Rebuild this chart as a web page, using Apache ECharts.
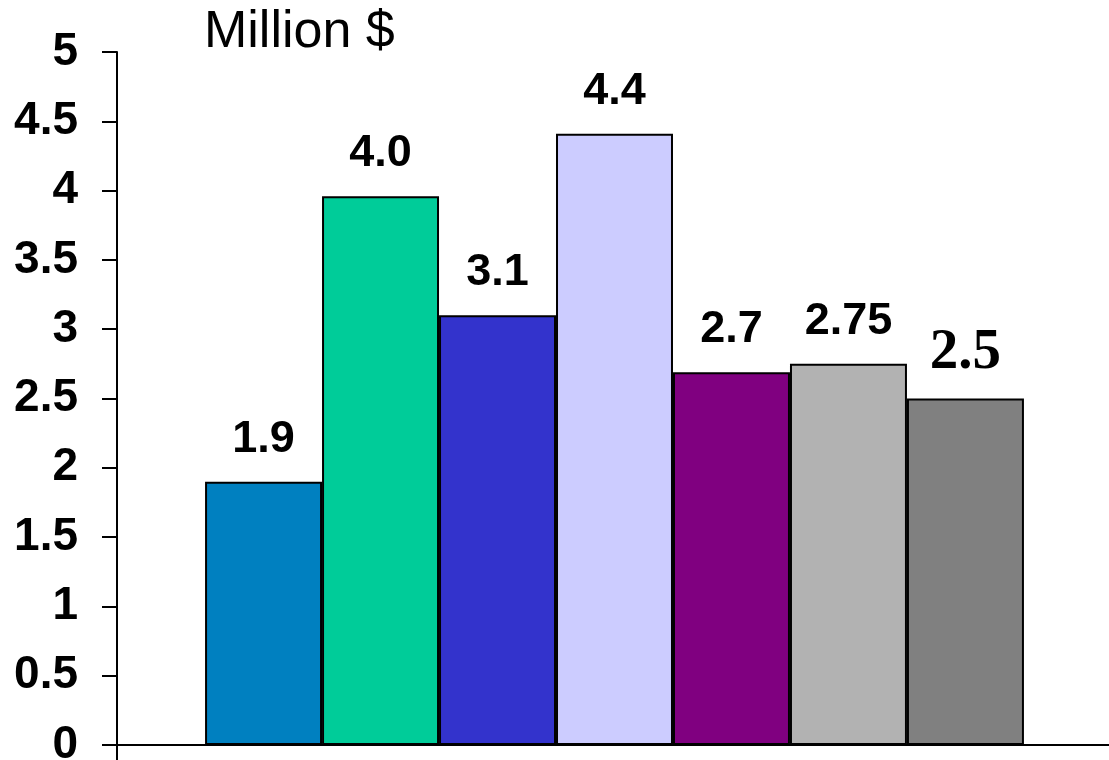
<!DOCTYPE html>
<html>
<head>
<meta charset="utf-8">
<script src="https://cdn.jsdelivr.net/npm/echarts@6/dist/echarts.min.js"></script>
<style>
html,body{margin:0;padding:0;background:#fff;}
#c{width:1109px;height:760px;}
</style>
</head>
<body>
<div id="c"></div>
<script>
var categories = [''];
var values = [1.9, 3.96, 3.1, 4.41, 2.69, 2.75, 2.5];
var valueLabels = ['1.9', '4.0', '3.1', '4.4', '2.7', '2.75', '2.5'];
var colors = ['#0080C0', '#00CC99', '#3333CC', '#CCCCFF', '#800080', '#B2B2B2', '#808080'];
var yTicks = [0, 0.5, 1, 1.5, 2, 2.5, 3, 3.5, 4, 4.5, 5];

var chart = echarts.init(document.getElementById('c'));
var series = values.map(function (v, i) {
  var serif = (i === values.length - 1);
  return {
    type: 'bar',
    data: [v],
    barGap: '0%',
    barCategoryGap: '17.7%',
    itemStyle: { color: colors[i], borderColor: '#000', borderWidth: 2 },
    label: {
      show: true,
      position: 'top',
      distance: serif ? 17 : 20,
      formatter: function () { return valueLabels[i]; },
      color: '#000',
      fontWeight: 'bold',
      fontFamily: serif ? '"Liberation Serif", "Times New Roman", serif' : '"Liberation Sans", Arial, sans-serif',
      fontSize: serif ? 57 : 45
    },
    silent: true,
    animation: false
  };
});

chart.setOption({
  animation: false,
  grid: { left: 117, right: -3, top: 52, bottom: 15, containLabel: false, outerBoundsMode: 'none' },
  graphic: [{
    type: 'text',
    left: 204,
    top: 7,
    style: {
      text: 'Million $',
      fill: '#000',
      font: 'normal 52px "Liberation Sans", Arial, sans-serif'
    }
  }],
  xAxis: {
    type: 'category',
    data: categories,
    axisLine: { lineStyle: { color: '#000', width: 2 } },
    axisTick: { show: true, length: 15, lineStyle: { color: '#000', width: 2 } },
    axisLabel: { show: false },
    splitLine: { show: false }
  },
  yAxis: {
    type: 'value',
    min: 0,
    max: 5,
    interval: 0.5,
    axisLine: { show: true, lineStyle: { color: '#000', width: 2 } },
    axisTick: { show: true, length: 15, lineStyle: { color: '#000', width: 2 } },
    axisLabel: {
      margin: 39,
      color: '#000',
      fontWeight: 'bold',
      fontSize: 46,
      fontFamily: '"Liberation Sans", Arial, sans-serif',
      formatter: function (v) { return String(yTicks[Math.round(v / 0.5)]); }
    },
    splitLine: { show: false }
  },
  series: series
});
</script>
</body>
</html>
